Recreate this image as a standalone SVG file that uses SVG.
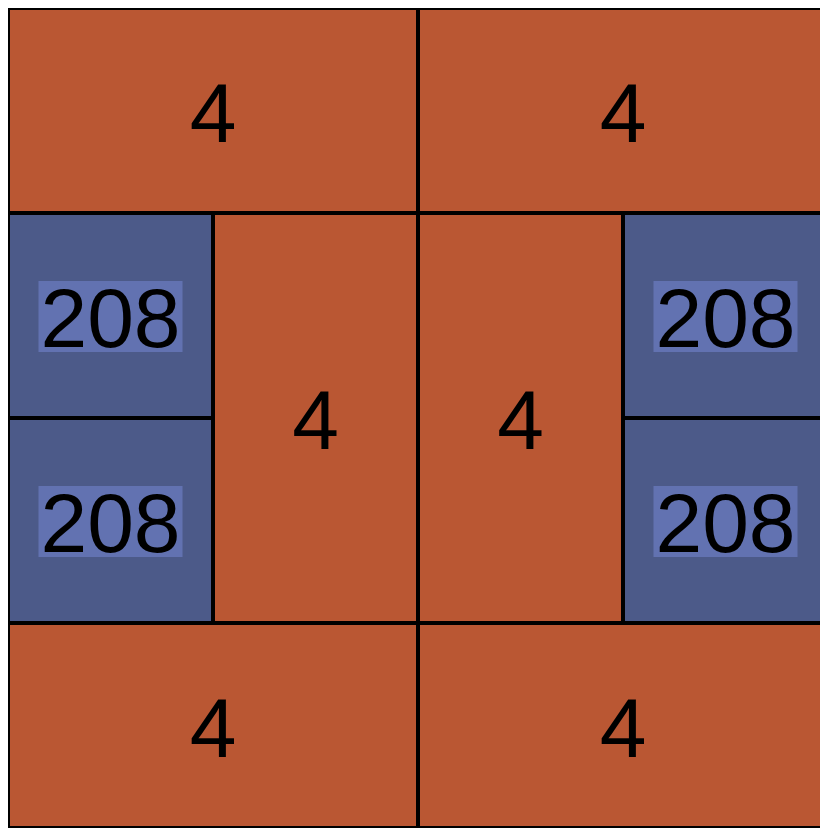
<svg xmlns="http://www.w3.org/2000/svg" width="820" height="828" viewBox="0 0 820 828">
<style>
.o{fill:#BA5733;stroke:#000;stroke-width:2}
.b{fill:#4C5A89;stroke:#000;stroke-width:2}
.hl{fill:#6272B1}
.t{font-family:"Liberation Sans",Arial,sans-serif;font-size:84px;fill:#000;text-anchor:middle}
</style>
<rect width="820" height="828" fill="#fff"/>
<g id="n1"><rect class="o" x="9" y="9" width="408" height="203"/><text class="t" x="213" y="141.5">4</text></g>
<g id="n2"><rect class="o" x="419" y="9" width="408" height="203"/><text class="t" x="623" y="141.5">4</text></g>
<g id="n3"><rect class="b" x="9" y="214" width="203" height="203"/><rect class="hl" x="38.5" y="281" width="144" height="71"/><text class="t" x="110.5" y="346.5">208</text></g>
<g id="n4"><rect class="b" x="9" y="419" width="203" height="203"/><rect class="hl" x="38.5" y="486" width="144" height="71"/><text class="t" x="110.5" y="551.5">208</text></g>
<g id="n5"><rect class="o" x="214" y="214" width="203" height="408"/><text class="t" x="315.5" y="449">4</text></g>
<g id="n6"><rect class="o" x="419" y="214" width="203" height="408"/><text class="t" x="520.5" y="449">4</text></g>
<g id="n7"><rect class="b" x="624" y="214" width="203" height="203"/><rect class="hl" x="653.5" y="281" width="144" height="71"/><text class="t" x="725.5" y="346.5">208</text></g>
<g id="n8"><rect class="b" x="624" y="419" width="203" height="203"/><rect class="hl" x="653.5" y="486" width="144" height="71"/><text class="t" x="725.5" y="551.5">208</text></g>
<g id="n9"><rect class="o" x="9" y="624" width="408" height="203"/><text class="t" x="213" y="756.5">4</text></g>
<g id="n10"><rect class="o" x="419" y="624" width="408" height="203"/><text class="t" x="623" y="756.5">4</text></g>
<g id="connectors"></g>
</svg>
